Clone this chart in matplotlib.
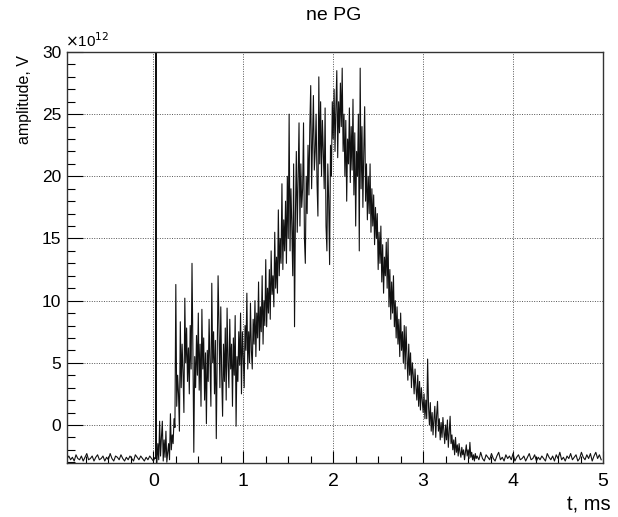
import numpy as np
import matplotlib.pyplot as plt
from matplotlib.ticker import MultipleLocator

plt.rcParams['font.family'] = ['Liberation Sans', 'DejaVu Sans']

# signal before the trigger, sampled every 0.02 ms from -0.96 ms (units of 1e12 V)
v_pre = [-2.7, -2.5, -2.8, -2.6, -2.9, -2.4, -2.7, -2.8, -2.5, -2.9,
         -2.6, -2.3, -2.8, -2.7, -2.5, -2.9, -2.6, -2.4, -2.8, -2.7,
         -2.5, -2.9, -2.6, -2.8, -2.3, -2.7, -2.9, -2.5, -2.6, -2.8,
         -2.4, -2.7, -2.9, -2.6, -2.8, -2.5, -2.7, -2.9, -2.4, -2.6,
         -2.8, -2.5, -2.7, -2.9, -2.6, -2.8, -2.5, -2.7, -2.9, -2.6]

# trigger pickup spike
t_spike = [0.025, 0.03, 0.035]
v_spike = [-2.7, 60.0, -10.0]

# main pulse, sampled every 0.01 ms from 0.04 ms
v_main = [-3.0, -1.5, -2.8, 0.3, -2.5, -1.0,
          0.3, -2.9, -1.2, -2.6, -0.5, -3.0, -2.2, -1.5, -2.8, 0.9,
          -2.0, -0.8, -1.5, 0.5, -0.2, 11.3, 1.5, 4.0, 2.5, -0.5,
          8.3, 3.0, 6.5, 4.2, 1.0, 10.2, 5.0, 7.8, 3.5, 6.2,
          2.5, 8.0, 4.5, 13.0, 6.0, -2.2, 5.5, 3.0, 7.2, 4.0,
          9.0, 2.8, 6.5, 1.5, 9.3, 4.5, 7.0, 2.0, 5.8, 0.1,
          6.0, 3.5, 8.5, 4.8, 1.5, 11.4, 5.0, 7.5, 2.5, 6.8,
          -1.1, 5.5, 12.0, 8.0, 3.0, 9.5, 4.0, 0.7, 6.5, 3.5,
          7.8, 2.0, 9.4, 5.0, 3.0, 8.5, 4.5, 6.5, 1.5, 7.0,
          4.0, 8.8, -0.1, 5.5, 3.5, 7.5, 4.8, 9.0, 2.5, 7.5,
          5.5, 3.0, 8.0, 6.0, 10.6, 4.5, 7.5, 5.0, 9.8, 6.0,
          4.5, 8.5, 6.5, 10.0, 5.5, 9.0, 7.0, 11.5, 6.0, 9.5,
          7.5, 12.0, 6.5, 10.0, 8.0, 13.3, 7.9, 11.0, 9.0, 12.5,
          8.5, 14.0, 10.5, 12.0, 9.5, 15.5, 11.0, 13.5, 10.6, 17.3,
          12.0, 15.0, 13.0, 19.4, 12.5, 16.5, 14.0, 18.0, 13.0, 20.0,
          15.0, 25.0, 14.0, 19.0, 16.0, 12.0, 21.0, 7.9, 17.0, 22.0,
          15.5, 20.0, 24.3, 16.0, 21.0, 17.5, 19.0, 24.3, 15.0, 13.0,
          20.0, 17.0, 22.5, 18.5, 24.0, 27.3, 19.0, 23.0, 26.5, 20.5,
          22.0, 25.0, 19.5, 16.8, 28.0, 21.0, 26.0, 20.0, 24.5, 22.0,
          19.0, 25.5, 16.0, 14.0, 21.0, 18.0, 12.9, 22.5, 20.0, 26.0,
          23.0, 27.0, 22.0, 25.5, 28.5, 21.5, 26.0, 23.5, 27.5, 24.0,
          28.7, 22.0, 25.0, 20.0, 24.5, 18.0, 23.0, 21.0, 25.5, 19.5,
          24.0, 20.5, 26.2, 18.5, 23.5, 16.0, 22.0, 20.0, 25.0, 14.0,
          28.7, 19.0, 24.0, 17.5, 22.0, 25.6, 18.0, 21.0, 16.5, 20.0,
          17.0, 21.0, 15.5, 19.0, 16.0, 18.5, 14.5, 17.5, 15.0, 17.0,
          12.5, 15.5, 13.0, 16.0, 11.5, 14.5, 10.6, 13.5, 12.0, 14.7,
          11.0, 15.0, 9.5, 12.5, 8.5, 11.5, 9.0, 12.0, 7.9, 10.0,
          7.0, 9.5, 6.5, 8.5, 5.5, 9.0, 6.0, 7.5, 5.0, 8.0,
          4.5, 7.9, 5.5, 3.6, 6.5, 4.0, 5.8, 3.0, 5.0, 4.0,
          2.5, 4.5, 3.0, 2.0, 4.0, 1.5, 3.5, 1.2, 3.0, 2.0,
          1.0, 2.5, 0.5, 2.0, 0.5, 5.3, 1.5, 0.0, 1.8, -0.5,
          1.0, -0.8, 0.5, 1.5, -1.0, 0.8, 1.9, -0.5, 0.5, -1.2,
          0.2, -1.0, 0.6, -0.5, -1.5, 0.0, -1.2, 0.4, -1.8, -0.6,
          0.7, -1.5, -0.8, -2.0, -1.2, -2.4, -1.0, -2.2, -1.6, -2.5,
          -1.5, -2.2, -2.6, -1.8, -2.4, -2.0, -2.8, -2.2, -1.6, -2.5,
          -2.0, -2.7, -1.4, -2.6, -2.2, -2.8, -2.4, -2.9, -2.3, -2.7]

# tail after the pulse, every 0.02 ms from 3.60 ms
v_tail = [-2.5, -2.8, -2.2, -2.7, -2.9, -2.4, -2.6, -2.8, -2.3, -2.7,
          -2.9, -2.5, -2.2, -2.8, -2.6, -2.9, -2.4, -2.7, -2.5, -2.8,
          -2.3, -2.9, -2.6, -2.4, -2.8, -2.7, -2.5, -2.9, -2.6, -2.3,
          -2.8, -2.7, -2.4, -2.9, -2.6, -2.8, -2.5, -2.7, -2.9, -2.3,
          -2.6, -2.8, -2.5, -2.9, -2.4, -2.7, -2.2, -2.8, -2.6, -2.9,
          -2.5, -2.7, -2.3, -2.8, -2.6, -2.4, -2.9, -2.7, -2.2, -2.6,
          -2.8, -2.4, -2.7, -2.3, -2.9, -2.5, -2.2, -2.7, -2.4, -2.8]

t_pre = -0.96 + 0.02 * np.arange(len(v_pre))
t_main = 0.04 + 0.01 * np.arange(len(v_main))
t_tail = 3.60 + 0.02 * np.arange(len(v_tail))

t = np.concatenate([t_pre, t_spike, t_main, t_tail])
v = np.concatenate([v_pre, v_spike, v_main, v_tail])

fig = plt.figure(figsize=(6.18, 5.17), dpi=100)
ax = fig.add_axes([67/618, 1-463/517, (603-67)/618, (463-52)/517])

ax.plot(t, v, color='#111111', lw=0.8)

ax.set_xlim(-0.96, 5.0)
ax.set_ylim(-3.06, 30)
ax.set_xticks([0, 1, 2, 3, 4, 5])
ax.set_yticks([0, 5, 10, 15, 20, 25, 30])
ax.xaxis.set_minor_locator(MultipleLocator(0.25))
ax.yaxis.set_minor_locator(MultipleLocator(1))
ax.tick_params(axis='x', which='major', direction='in', length=8.5, width=0.8,
               labelsize=14, pad=7, top=False)
ax.tick_params(axis='x', which='minor', direction='in', length=5, width=0.8, top=False)
ax.tick_params(axis='y', which='major', direction='in', length=11.5, width=0.8,
               labelsize=12.5, pad=4, right=False)
ax.tick_params(axis='y', which='minor', direction='in', length=5.8, width=0.8, right=False)
ax.grid(True, which='major', color='#555555', linestyle=(0, (1, 1.5)), lw=0.7)
for s in ax.spines.values():
    s.set_color('#333333')
    s.set_linewidth(1.0)

ax.text(-0.004, 1.004, r'$\times$10$^{12}$', transform=ax.transAxes,
        ha='left', va='bottom', fontsize=11)
fig.text(334/618, 1-16/517, 'ne PG', ha='center', va='center', fontsize=14)
fig.text(25/618, 1-55/517, 'amplitude, V', rotation=90, ha='center', va='top', fontsize=11.5)
fig.text(611/618, 1-505/517, 't, ms', ha='right', va='center', fontsize=14.5)

fig.savefig('out.png', dpi=100)
